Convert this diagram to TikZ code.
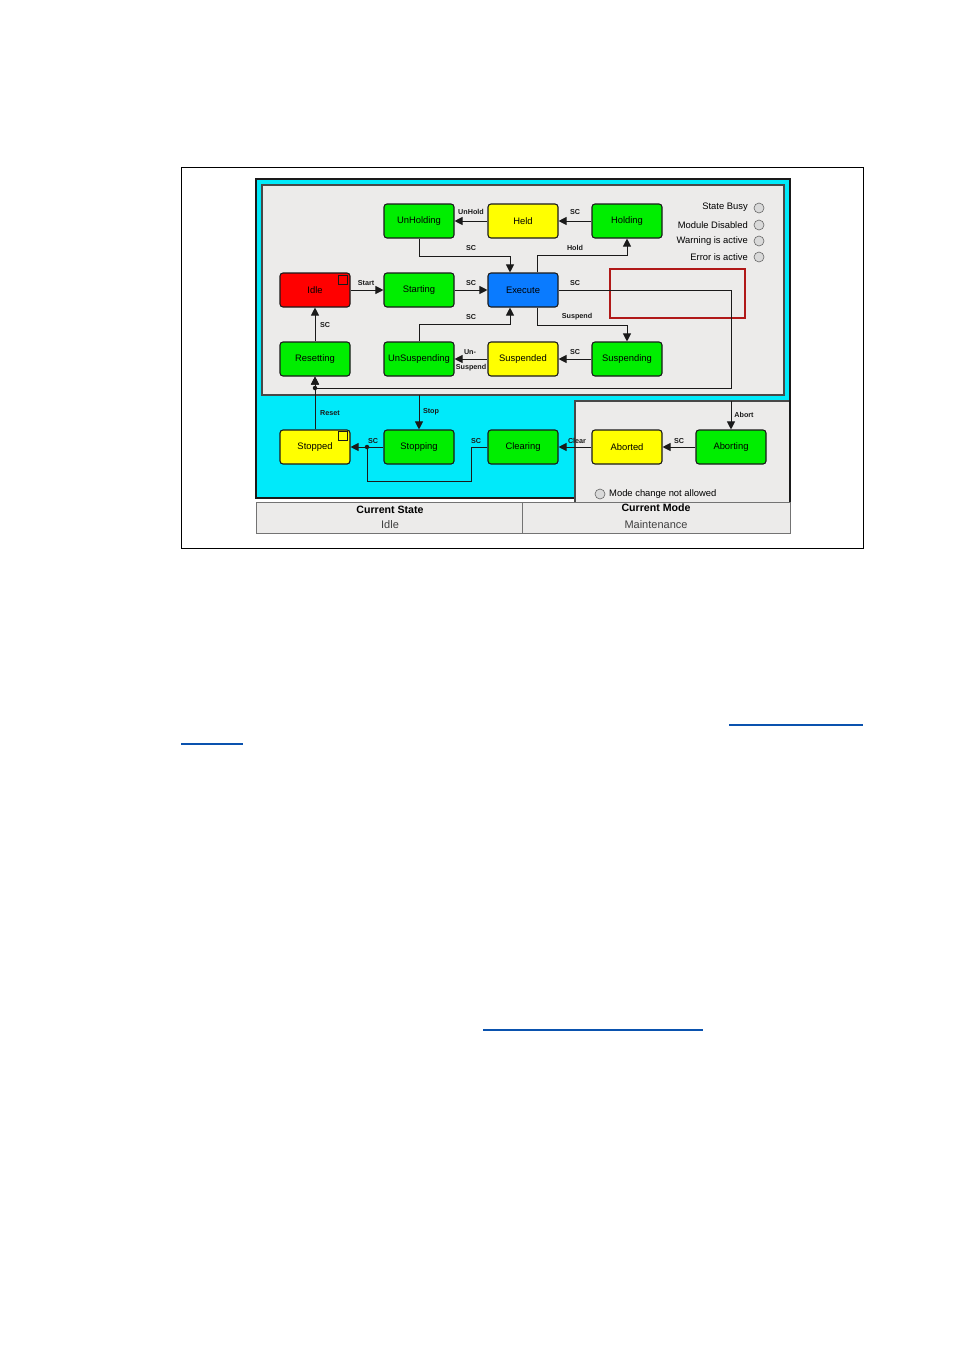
\documentclass[tikz,border=0pt]{standalone}
\usepackage{fontspec}
\setmainfont{Liberation Sans}
\usetikzlibrary{arrows.meta,calc}
\definecolor{stgreen}{HTML}{00EE00}
\definecolor{styellow}{HTML}{FFFF00}
\definecolor{stred}{HTML}{FF0000}
\definecolor{stblue}{HTML}{0A7BFF}
\definecolor{pcyan}{HTML}{00EAFA}
\definecolor{pgray}{HTML}{ECEBEA}
\definecolor{ink}{HTML}{1A1A1A}
\definecolor{linkblue}{HTML}{0A52AE}
\definecolor{darkred}{HTML}{B01818}
\begin{document}
\begin{tikzpicture}[x=1pt,y=-1pt,
  state/.style={draw=ink, line width=1.1pt, rounded corners=3pt, minimum width=70pt, minimum height=34pt, inner sep=0pt, text=black, font=\fontsize{9.4}{11}\selectfont},
  arr/.style={draw=ink, line width=1pt, -{Triangle[length=8pt,width=8pt]}},
  conn/.style={draw=ink, line width=1pt},
  lbl/.style={font=\bfseries\fontsize{7.2}{8}\selectfont, inner sep=0pt, text=ink},
  ind/.style={font=\fontsize{9.4}{10}\selectfont, inner sep=0pt, text=black, anchor=east},
  lamp/.style={circle, draw=black!60, fill=black!15, line width=0.6pt, minimum size=10pt, inner sep=0pt},
  sqmark/.style={draw=ink, line width=1pt, minimum size=9pt, inner sep=0pt},
  jdot/.style={circle, fill=ink, minimum size=4.5pt, inner sep=0pt},
  cellhead/.style={font=\bfseries\fontsize{10.6}{12}\selectfont, inner sep=0pt, text=black},
  cellval/.style={font=\fontsize{11}{12}\selectfont, inner sep=0pt, text=black!75}
]
\useasboundingbox (0,0) rectangle (954,1350);
\fill[white] (0,0) rectangle (954,1350);

% outer frame
\draw[black, line width=0.7pt] (181,167) rectangle (863,548);

% cyan panel
\filldraw[fill=pcyan, draw=ink, line width=1.2pt] (256,179) rectangle (790,498);
% inner gray panel
\filldraw[fill=pgray, draw=ink!80, line width=1.6pt] (262,185) rectangle (784,395);
% lower-right gray panel
\fill[pgray] (575,401) rectangle (790,502);
\draw[ink!80, line width=1.4pt] (575,502) -- (575,401) -- (790,401);
\draw[ink, line width=1.2pt] (790,395) -- (790,502);
% table
\filldraw[fill=pgray, draw=black!55, line width=0.7pt] (256,502) rectangle (790,533);
\draw[black!55, line width=0.7pt] (522,502) -- (522,533);

% red highlight
\draw[darkred, line width=1.5pt] (610,269) rectangle (745,318);

% states
\node[state, fill=stgreen] (unholding) at (419,221) {UnHolding};
\node[state, fill=styellow] (held) at (523,221) {Held};
\node[state, fill=stgreen] (holding) at (627,221) {Holding};
\node[state, fill=stred] (idle) at (315,290) {Idle};
\node[state, fill=stgreen] (starting) at (419,290) {Starting};
\node[state, fill=stblue] (execute) at (523,290) {Execute};
\node[state, fill=stgreen] (resetting) at (315,359) {Resetting};
\node[state, fill=stgreen] (unsuspending) at (419,359) {UnSuspending};
\node[state, fill=styellow] (suspended) at (523,359) {Suspended};
\node[state, fill=stgreen] (suspending) at (627,359) {Suspending};
\node[state, fill=styellow] (stopped) at (315,447) {Stopped};
\node[state, fill=stgreen] (stopping) at (419,447) {Stopping};
\node[state, fill=stgreen] (clearing) at (523,447) {Clearing};
\node[state, fill=styellow] (aborted) at (627,447) {Aborted};
\node[state, fill=stgreen] (aborting) at (731,447) {Aborting};

\node[sqmark] (idlesq) at (343,280) {};
\node[sqmark] (stoppedsq) at (343,436) {};

% coordinates
\coordinate (loopcorner) at (731,388);
\coordinate (resetjoin) at (315,388);
\coordinate (stoptop) at (419,395);
\coordinate (aborttop) at (731,401);
\coordinate (stopjoin) at (367,447);

% connectors
\draw[arr] (held) -- (unholding);
\draw[arr] (holding) -- (held);
\draw[arr] (unholding.south) -- ++(0,18) -| ([xshift=-13pt]execute.north);
\draw[arr] ([xshift=14pt]execute.north) -- ++(0,-17) -| (holding.south);
\draw[arr] (idle) -- (starting);
\draw[arr] (starting) -- (execute);
\draw[arr] (execute.east) -| (loopcorner) -| (resetting.south);
\draw[arr] (resetting) -- (idle);
\draw[arr] (unsuspending.north) -- ++(0,-17) -| ([xshift=-13pt]execute.south);
\draw[arr] ([xshift=14pt]execute.south) -- ++(0,18) -| (suspending.north);
\draw[arr] (suspending) -- (suspended);
\draw[arr] (suspended) -- (unsuspending);
\draw[arr] (stopped.north) -- (resetting.south);
\draw[arr] (stoptop) -- (stopping.north);
\draw[arr] (stopping) -- (stopped);
\draw[conn] (clearing.west) -- ++(-16,0) -- ++(0,34) -| (stopjoin);
\draw[arr] (aborted) -- (clearing);
\draw[arr] (aborting) -- (aborted);
\draw[arr] (aborttop) -- (aborting.north);
\node[jdot] (jd1) at (resetjoin) {};
\node[jdot] (jd2) at (stopjoin) {};

% labels
\node[lbl] (l1) at (471,212) {UnHold};
\node[lbl] (l2) at (575,212) {SC};
\node[lbl] (l3) at (471,248) {SC};
\node[lbl] (l4) at (575,248) {Hold};
\node[lbl] (l5) at (366,283) {Start};
\node[lbl] (l6) at (471,283) {SC};
\node[lbl] (l7) at (575,283) {SC};
\node[lbl] (l8) at (325,325) {SC};
\node[lbl] (l9) at (471,317) {SC};
\node[lbl] (l10) at (577,317) {Suspend};
\node[lbl] (l11) at (575,352) {SC};
\node[lbl] (l12) at (470,352) {Un-};
\node[lbl] (l13) at (471,368) {Suspend};
\node[lbl] (l14) at (330,413) {Reset};
\node[lbl] (l15) at (431,412) {Stop};
\node[lbl] (l16) at (373,441) {SC};
\node[lbl] (l17) at (476,441) {SC};
\node[lbl] (l18) at (577,441) {Clear};
\node[lbl] (l19) at (679,441) {SC};
\node[lbl] (l20) at (744,415) {Abort};

% indicators
\node[ind] (i1) at (748,207.5) {State Busy};
\node[lamp] (c1) at (759,208) {};
\node[ind] (i2) at (748,225) {Module Disabled};
\node[lamp] (c2) at (759,225) {};
\node[ind] (i3) at (748,241.5) {Warning is active};
\node[lamp] (c3) at (759,241) {};
\node[ind] (i4) at (748,257) {Error is active};
\node[lamp] (c4) at (759,257) {};
\node[lamp] (c5) at (600,494) {};
\node[ind, anchor=west] (i5) at (609,494) {Mode change not allowed};

% table text
\node[cellhead] (h1) at (390,510) {Current State};
\node[cellval] (v1) at (390,525) {Idle};
\node[cellhead] (h2) at (656,508) {Current Mode};
\node[cellval] (v2) at (656,525) {Maintenance};

% link underlines
\draw[linkblue, line width=1.4pt] (729,725) -- (863,725);
\draw[linkblue, line width=1.4pt] (181,744) -- (243,744);
\draw[linkblue, line width=1.4pt] (483,1030) -- (703,1030);
\end{tikzpicture}
\end{document}
